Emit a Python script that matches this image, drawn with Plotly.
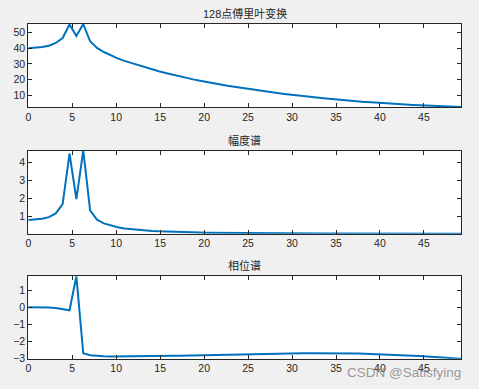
import plotly.graph_objects as go

# frequency axis (Hz), 64 bins
freq = [0, 0.7813, 1.5625, 2.3438, 3.125, 3.9063, 4.6875, 5.4688, 6.25, 7.0313,
        7.8125, 8.5938, 9.375, 10.1563, 10.9375, 11.7188, 12.5, 13.2813, 14.0625, 14.8438,
        15.625, 16.4063, 17.1875, 17.9688, 18.75, 19.5313, 20.3125, 21.0938, 21.875, 22.6563,
        23.4375, 24.2188, 25.0, 25.7813, 26.5625, 27.3438, 28.125, 28.9063, 29.6875, 30.4688,
        31.25, 32.0313, 32.8125, 33.5938, 34.375, 35.1563, 35.9375, 36.7188, 37.5, 38.2813,
        39.0625, 39.8438, 40.625, 41.4063, 42.1875, 42.9688, 43.75, 44.5313, 45.3125, 46.0938,
        46.875, 47.6563, 48.4375, 49.2188]

# 128-point FFT (dB)
fft_db = [40.0, 40.2, 40.8, 41.6, 43.4, 46.6, 55.25, 47.9, 55.56, 44.5,
          40.2, 37.6, 35.4, 33.5, 31.9, 30.5, 29.15, 27.8, 26.5, 25.25,
          24.1, 23.0, 21.95, 21.0, 20.05, 19.15, 18.25, 17.45, 16.65, 15.95,
          15.25, 14.55, 13.9, 13.25, 12.65, 12.05, 11.45, 10.9, 10.3, 9.8,
          9.3, 8.8, 8.35, 7.9, 7.45, 7.0, 6.65, 6.3, 5.95, 5.6,
          5.3, 4.95, 4.65, 4.4, 4.15, 3.9, 3.65, 3.45, 3.2, 3.0,
          2.8, 2.6, 2.45, 2.33]

# amplitude spectrum
amp = [0.781, 0.80, 0.856, 0.94, 1.15, 1.67, 4.52, 1.95, 4.69, 1.32,
       0.80, 0.593, 0.46, 0.37, 0.3075, 0.2617, 0.224, 0.1918, 0.165, 0.143,
       0.1252, 0.1104, 0.0979, 0.0877, 0.0786, 0.0709, 0.0639, 0.0583, 0.0531, 0.0490,
       0.0452, 0.0417, 0.0387, 0.0359, 0.0335, 0.0313, 0.0292, 0.0274, 0.0256, 0.0241,
       0.0228, 0.0215, 0.0204, 0.0194, 0.0184, 0.0175, 0.0168, 0.0161, 0.0155, 0.0149,
       0.0144, 0.0138, 0.0133, 0.0130, 0.0126, 0.0122, 0.0119, 0.0116, 0.0113, 0.0110,
       0.0108, 0.0105, 0.0104, 0.0102]

# phase spectrum
phase = [0.0, 0.0, -0.005, -0.02, -0.05, -0.1, -0.18, 1.83, -2.72, -2.84,
         -2.88, -2.9, -2.91, -2.91, -2.905, -2.9, -2.895, -2.89, -2.885, -2.88,
         -2.875, -2.87, -2.865, -2.855, -2.85, -2.845, -2.835, -2.825, -2.815, -2.805,
         -2.795, -2.785, -2.775, -2.765, -2.755, -2.75, -2.74, -2.735, -2.73, -2.727,
         -2.724, -2.72, -2.718, -2.717, -2.718, -2.72, -2.725, -2.73, -2.74, -2.75,
         -2.76, -2.77, -2.785, -2.8, -2.82, -2.84, -2.86, -2.885, -2.91, -2.935,
         -2.96, -2.985, -3.01, -3.04]

titles = ["128点傅里叶变换", "幅度谱", "相位谱"]
xticks = [0, 5, 10, 15, 20, 25, 30, 35, 40, 45]
yticks = [[10, 20, 30, 40, 50], [1, 2, 3, 4], [-3, -2, -1, 0, 1]]

W, H = 479, 389
FONT = "Liberation Sans, Arial, Noto Sans CJK SC, sans-serif"
INK = "#262626"
LINE = "#0072BD"

# pixel boxes (left, right, top, bottom)
boxes = [(28.3, 461, 24, 107), (28.3, 461, 150.5, 233.7), (28.3, 461, 276.3, 358.7)]
series = [fft_db, amp, phase]

fig = go.Figure()
layout = dict(width=W, height=H, margin=dict(l=0, r=0, t=0, b=0),
              paper_bgcolor="#f0f0f0", plot_bgcolor="#ffffff",
              showlegend=False, font=dict(family=FONT, size=10, color=INK))
annotations = []
for i, (ys, (l, r, t, b)) in enumerate(zip(series, boxes)):
    n = "" if i == 0 else str(i + 1)
    fig.add_trace(go.Scatter(x=freq, y=ys, mode="lines",
                             line=dict(color=LINE, width=2),
                             xaxis="x" + n, yaxis="y" + n, hoverinfo="skip"))
    common = dict(showline=True, linecolor=INK, linewidth=1, mirror="ticks",
                  ticks="inside", ticklen=4, tickcolor=INK, tickwidth=1,
                  showgrid=False, zeroline=False, automargin=False,
                  tickfont=dict(family=FONT, size=10.5, color=INK))
    layout["xaxis" + n] = dict(common, domain=[l / W, r / W],
                               range=[freq[0], freq[-1]], tickvals=xticks,
                               anchor="y" + n)
    layout["yaxis" + n] = dict(common, domain=[(H - b) / H, (H - t) / H],
                               range=[min(ys), max(ys)], tickvals=yticks[i],
                               anchor="x" + n)
    annotations.append(dict(text=titles[i], x=(l + r) / 2 / W, y=(H - t + 2) / H,
                            xref="paper", yref="paper", xanchor="center",
                            yanchor="bottom", showarrow=False,
                            font=dict(family=FONT, size=11, color=INK)))

annotations.append(dict(text="CSDN @Satisfying", x=463 / W, y=(H - 372) / H,
                        xref="paper", yref="paper", xanchor="right",
                        yanchor="middle", showarrow=False,
                        font=dict(family=FONT, size=13.5, color="rgba(120,120,120,0.75)")))
layout["annotations"] = annotations
fig.update_layout(**layout)
fig.write_html("out.html", config={"displayModeBar": False},
               post_script="document.body.style.margin='0';document.body.style.background='#f0f0f0';document.body.style.overflow='hidden';")
